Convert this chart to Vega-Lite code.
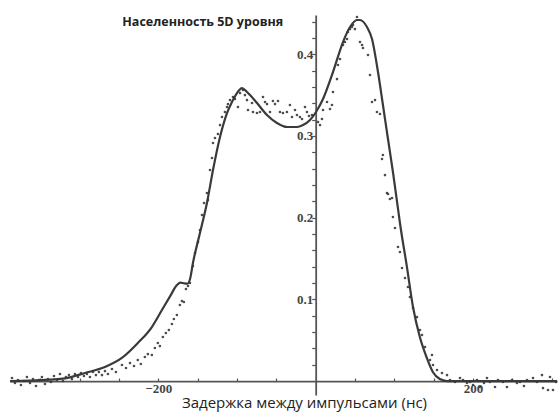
{
  "$schema": "https://vega.github.io/schema/vega-lite/v6.json",
  "width": 547,
  "height": 380,
  "autosize": {"type": "none"},
  "padding": {"left": 10, "top": 15, "right": 1, "bottom": 18},
  "background": "white",
  "config": {"view": {"stroke": null}},
  "datasets": {
    "fit": [
      {"delay": -388.5, "population": 0.0},
      {"delay": -363, "population": 0.0006},
      {"delay": -337.7, "population": 0.0018},
      {"delay": -318.6, "population": 0.0033},
      {"delay": -293.2, "population": 0.0098},
      {"delay": -267.9, "population": 0.0171},
      {"delay": -246.3, "population": 0.0282},
      {"delay": -226, "population": 0.0465},
      {"delay": -208.2, "population": 0.0661},
      {"delay": -195.4, "population": 0.0869},
      {"delay": -184, "population": 0.1055},
      {"delay": -178, "population": 0.1155},
      {"delay": -172, "population": 0.1205},
      {"delay": -167, "population": 0.1195},
      {"delay": -163, "population": 0.1192},
      {"delay": -159.5, "population": 0.1255},
      {"delay": -156, "population": 0.1444},
      {"delay": -147.1, "population": 0.1811},
      {"delay": -138.2, "population": 0.2179},
      {"delay": -130.5, "population": 0.2583},
      {"delay": -121.6, "population": 0.2987},
      {"delay": -112.7, "population": 0.328},
      {"delay": -106.4, "population": 0.3415},
      {"delay": -100, "population": 0.3525},
      {"delay": -93.7, "population": 0.3586},
      {"delay": -87.3, "population": 0.3537},
      {"delay": -74.6, "population": 0.3403},
      {"delay": -61.9, "population": 0.3256},
      {"delay": -49.2, "population": 0.3158},
      {"delay": -36.5, "population": 0.3109},
      {"delay": -23.8, "population": 0.3109},
      {"delay": -16.1, "population": 0.3133},
      {"delay": -7.2, "population": 0.3195},
      {"delay": 0.4, "population": 0.3293},
      {"delay": 9.3, "population": 0.3452},
      {"delay": 22, "population": 0.3782},
      {"delay": 34.7, "population": 0.4149},
      {"delay": 43.6, "population": 0.4333},
      {"delay": 52.5, "population": 0.4419},
      {"delay": 56.3, "population": 0.4419},
      {"delay": 65.2, "population": 0.4333},
      {"delay": 71.6, "population": 0.4186},
      {"delay": 79.2, "population": 0.3782},
      {"delay": 85.5, "population": 0.3378},
      {"delay": 91.9, "population": 0.2962},
      {"delay": 98.2, "population": 0.2558},
      {"delay": 104.6, "population": 0.211},
      {"delay": 107.1, "population": 0.1934},
      {"delay": 116, "population": 0.1395},
      {"delay": 123.7, "population": 0.0906},
      {"delay": 132.4, "population": 0.0539},
      {"delay": 141.3, "population": 0.0282},
      {"delay": 148.9, "population": 0.011},
      {"delay": 157.8, "population": 0.0024},
      {"delay": 166.7, "population": 0.0},
      {"delay": 234, "population": 0.0},
      {"delay": 306.7, "population": 0.0}
    ],
    "measured": [
      {"delay": -386.0, "population": 0.0037},
      {"delay": -382.2, "population": -0.0024},
      {"delay": -378.4, "population": 0.0012},
      {"delay": -374.6, "population": -0.0049},
      {"delay": -370.8, "population": 0.0},
      {"delay": -367.0, "population": 0.0049},
      {"delay": -363.1, "population": -0.0024},
      {"delay": -359.3, "population": 0.0024},
      {"delay": -355.5, "population": -0.0061},
      {"delay": -351.7, "population": 0.0012},
      {"delay": -347.9, "population": 0.0049},
      {"delay": -344.1, "population": -0.0037},
      {"delay": -340.3, "population": 0.0024},
      {"delay": -336.5, "population": -0.0012},
      {"delay": -332.6, "population": 0.0061},
      {"delay": -328.8, "population": 0.0012},
      {"delay": -325.0, "population": 0.0086},
      {"delay": -321.2, "population": 0.0},
      {"delay": -317.4, "population": 0.0049},
      {"delay": -313.6, "population": 0.0073},
      {"delay": -309.8, "population": 0.0024},
      {"delay": -306.0, "population": 0.0086},
      {"delay": -302.1, "population": 0.0049},
      {"delay": -298.3, "population": 0.0098},
      {"delay": -294.5, "population": 0.0061},
      {"delay": -290.7, "population": 0.0086},
      {"delay": -286.9, "population": 0.0049},
      {"delay": -283.1, "population": 0.011},
      {"delay": -279.3, "population": 0.0073},
      {"delay": -275.5, "population": 0.011},
      {"delay": -271.6, "population": 0.0073},
      {"delay": -267.8, "population": 0.0122},
      {"delay": -264.0, "population": 0.0086},
      {"delay": -258.9, "population": 0.0147},
      {"delay": -253.9, "population": 0.011},
      {"delay": -246.2, "population": 0.0196},
      {"delay": -241.1, "population": 0.0159},
      {"delay": -236.0, "population": 0.022},
      {"delay": -230.9, "population": 0.0184},
      {"delay": -226.1, "population": 0.0257},
      {"delay": -222.2, "population": 0.0208},
      {"delay": -217.1, "population": 0.0294},
      {"delay": -213.3, "population": 0.033},
      {"delay": -208.2, "population": 0.0318},
      {"delay": -204.4, "population": 0.0404},
      {"delay": -200.6, "population": 0.0465},
      {"delay": -198.0, "population": 0.0428},
      {"delay": -194.2, "population": 0.0539},
      {"delay": -190.4, "population": 0.0588},
      {"delay": -186.6, "population": 0.0624},
      {"delay": -182.7, "population": 0.0698},
      {"delay": -180.2, "population": 0.0759},
      {"delay": -176.4, "population": 0.0808},
      {"delay": -172.6, "population": 0.093},
      {"delay": -170.0, "population": 0.0979},
      {"delay": -167.5, "population": 0.0967},
      {"delay": -164.9, "population": 0.1126},
      {"delay": -162.3, "population": 0.1163},
      {"delay": -159.8, "population": 0.12},
      {"delay": -156.0, "population": 0.1408},
      {"delay": -153.4, "population": 0.1567},
      {"delay": -149.6, "population": 0.1701},
      {"delay": -147.1, "population": 0.1848},
      {"delay": -144.5, "population": 0.2032},
      {"delay": -141.9, "population": 0.2179},
      {"delay": -138.2, "population": 0.2301},
      {"delay": -136.9, "population": 0.2215},
      {"delay": -134.3, "population": 0.2583},
      {"delay": -131.8, "population": 0.273},
      {"delay": -130.5, "population": 0.2913},
      {"delay": -128.0, "population": 0.2974},
      {"delay": -124.2, "population": 0.3023},
      {"delay": -121.6, "population": 0.3133},
      {"delay": -119.1, "population": 0.3231},
      {"delay": -115.3, "population": 0.3293},
      {"delay": -112.7, "population": 0.3354},
      {"delay": -111.5, "population": 0.339},
      {"delay": -108.9, "population": 0.3439},
      {"delay": -105.1, "population": 0.3476},
      {"delay": -102.6, "population": 0.3452},
      {"delay": -98.8, "population": 0.3354},
      {"delay": -96.2, "population": 0.3525},
      {"delay": -92.4, "population": 0.3562},
      {"delay": -89.9, "population": 0.35},
      {"delay": -87.3, "population": 0.3439},
      {"delay": -86.0, "population": 0.3317},
      {"delay": -80.9, "population": 0.3403},
      {"delay": -79.7, "population": 0.3293},
      {"delay": -74.6, "population": 0.328},
      {"delay": -70.8, "population": 0.3293},
      {"delay": -67.0, "population": 0.3476},
      {"delay": -64.4, "population": 0.3415},
      {"delay": -61.9, "population": 0.339},
      {"delay": -58.1, "population": 0.3293},
      {"delay": -54.3, "population": 0.3427},
      {"delay": -51.7, "population": 0.339},
      {"delay": -47.9, "population": 0.3427},
      {"delay": -45.4, "population": 0.3293},
      {"delay": -41.6, "population": 0.328},
      {"delay": -36.5, "population": 0.3293},
      {"delay": -32.7, "population": 0.3378},
      {"delay": -30.1, "population": 0.3231},
      {"delay": -26.3, "population": 0.3317},
      {"delay": -23.8, "population": 0.3256},
      {"delay": -20.0, "population": 0.3231},
      {"delay": -17.4, "population": 0.3207},
      {"delay": -13.6, "population": 0.3354},
      {"delay": -11.1, "population": 0.3293},
      {"delay": -8.5, "population": 0.3244},
      {"delay": -4.7, "population": 0.3256},
      {"delay": 2.9, "population": 0.317},
      {"delay": 5.5, "population": 0.3133},
      {"delay": 8.0, "population": 0.3207},
      {"delay": 9.3, "population": 0.3317},
      {"delay": 14.4, "population": 0.3415},
      {"delay": 18.2, "population": 0.3329},
      {"delay": 20.7, "population": 0.3378},
      {"delay": 22.0, "population": 0.3537},
      {"delay": 27.1, "population": 0.3696},
      {"delay": 28.3, "population": 0.3868},
      {"delay": 30.9, "population": 0.3941},
      {"delay": 34.7, "population": 0.4113},
      {"delay": 37.2, "population": 0.4149},
      {"delay": 39.8, "population": 0.4186},
      {"delay": 41.0, "population": 0.4272},
      {"delay": 43.6, "population": 0.4308},
      {"delay": 46.1, "population": 0.4333},
      {"delay": 47.4, "population": 0.4357},
      {"delay": 49.9, "population": 0.4308},
      {"delay": 52.5, "population": 0.4455},
      {"delay": 56.3, "population": 0.4149},
      {"delay": 58.9, "population": 0.4113},
      {"delay": 60.1, "population": 0.4076},
      {"delay": 66.5, "population": 0.399},
      {"delay": 69.0, "population": 0.3745},
      {"delay": 71.6, "population": 0.3415},
      {"delay": 75.4, "population": 0.3439},
      {"delay": 77.9, "population": 0.3293},
      {"delay": 81.7, "population": 0.3268},
      {"delay": 84.3, "population": 0.2717},
      {"delay": 85.5, "population": 0.2766},
      {"delay": 88.1, "population": 0.2521},
      {"delay": 90.6, "population": 0.2301},
      {"delay": 91.9, "population": 0.2289},
      {"delay": 94.4, "population": 0.2228},
      {"delay": 97.0, "population": 0.224},
      {"delay": 98.2, "population": 0.2007},
      {"delay": 100.8, "population": 0.1873},
      {"delay": 104.6, "population": 0.164},
      {"delay": 107.1, "population": 0.1579},
      {"delay": 109.7, "population": 0.1383},
      {"delay": 113.5, "population": 0.1261},
      {"delay": 117.3, "population": 0.1151},
      {"delay": 119.8, "population": 0.1028},
      {"delay": 123.7, "population": 0.0894},
      {"delay": 128.8, "population": 0.0783},
      {"delay": 132.6, "population": 0.0624},
      {"delay": 135.1, "population": 0.0563},
      {"delay": 138.9, "population": 0.0416},
      {"delay": 145.3, "population": 0.0257},
      {"delay": 147.8, "population": 0.0318},
      {"delay": 149.1, "population": 0.0196},
      {"delay": 154.2, "population": 0.0135},
      {"delay": 160.5, "population": 0.0098},
      {"delay": 166.9, "population": 0.0073},
      {"delay": 170.7, "population": 0.0012},
      {"delay": 177.1, "population": -0.0012},
      {"delay": 183.4, "population": 0.0037},
      {"delay": 187.2, "population": 0.0012},
      {"delay": 192.3, "population": -0.0024},
      {"delay": 196.1, "population": -0.0012},
      {"delay": 200.0, "population": -0.0049},
      {"delay": 205.0, "population": 0.0012},
      {"delay": 208.8, "population": -0.0073},
      {"delay": 213.9, "population": -0.0024},
      {"delay": 217.7, "population": 0.0037},
      {"delay": 221.5, "population": -0.0012},
      {"delay": 227.9, "population": -0.0073},
      {"delay": 231.7, "population": 0.0012},
      {"delay": 238.0, "population": -0.0012},
      {"delay": 243.1, "population": -0.0073},
      {"delay": 249.5, "population": 0.0012},
      {"delay": 255.8, "population": -0.0024},
      {"delay": 259.6, "population": -0.0012},
      {"delay": 264.7, "population": -0.0061},
      {"delay": 268.6, "population": 0.0012},
      {"delay": 276.2, "population": 0.0037},
      {"delay": 281.3, "population": -0.0012},
      {"delay": 287.6, "population": 0.0073},
      {"delay": 288.9, "population": -0.0086},
      {"delay": 295.3, "population": -0.011},
      {"delay": 297.8, "population": 0.0049},
      {"delay": 301.6, "population": -0.011},
      {"delay": 305.4, "population": -0.0012}
    ]
  },
  "encoding": {
    "x": {
      "field": "delay",
      "type": "quantitative",
      "scale": {"domain": [-388.5, 306.7], "nice": false, "zero": false},
      "axis": {
        "orient": "bottom",
        "offset": {"expr": "scale('y', 0) - height"},
        "values": [-350, -300, -250, -200, -150, -100, -50, 50, 100, 150, 200, 250, 300],
        "labelExpr": "abs(datum.value) == 200 ? format(datum.value, 'd') : ''",
        "labelOverlap": false,
        "labelFlush": false,
        "grid": false,
        "domainColor": "#555555",
        "domainWidth": 1.8,
        "tickColor": "#555555",
        "tickWidth": 1.2,
        "tickSize": -3,
        "labelPadding": 4,
        "labelFont": "Liberation Serif",
        "labelFontSize": 13,
        "labelFontWeight": "bold",
        "labelColor": "#444444",
        "title": "Задержка между импульсами (нс)",
        "titleFont": "Open Sans",
        "titleFontSize": 15,
        "titleFontWeight": "normal",
        "titleColor": "#222222",
        "titleAnchor": "start",
        "titleAlign": "center",
        "titleBaseline": "middle",
        "titleX": 294,
        "titleY": 21
      }
    },
    "y": {
      "field": "population",
      "type": "quantitative",
      "scale": {"domain": [-0.0171, 0.448], "nice": false, "zero": false},
      "axis": {
        "orient": "left",
        "offset": {"expr": "-scale('x', 0)"},
        "values": [0.02, 0.04, 0.06, 0.08, 0.1, 0.12, 0.14, 0.16, 0.18, 0.2, 0.22, 0.24, 0.26, 0.28, 0.3, 0.32, 0.34, 0.36, 0.38, 0.4, 0.42, 0.44],
        "labelExpr": "abs(datum.value * 10 - round(datum.value * 10)) < 0.000001 ? format(datum.value, '.1f') : ''",
        "labelOverlap": false,
        "labelFlush": false,
        "grid": false,
        "domainColor": "#555555",
        "domainWidth": 1.8,
        "tickColor": "#555555",
        "tickWidth": 1.2,
        "tickSize": 4,
        "labelPadding": -1,
        "labelFont": "Liberation Serif",
        "labelFontSize": 13,
        "labelFontWeight": "bold",
        "labelColor": "#444444",
        "title": "Населенность 5D уровня",
        "titleFont": "Open Sans",
        "titleFontSize": 12.5,
        "titleFontWeight": "bold",
        "titleColor": "#222222",
        "titleAngle": 0,
        "titleAlign": "right",
        "titleBaseline": "middle",
        "titleX": -33,
        "titleY": 6
      }
    }
  },
  "layer": [
    {
      "data": {"name": "fit"},
      "mark": {"type": "line", "color": "#3a3a3a", "strokeWidth": 2.2, "interpolate": "monotone"}
    },
    {
      "data": {"name": "measured"},
      "mark": {"type": "circle", "size": 7, "color": "#3a3a3a", "opacity": 0.9}
    }
  ]
}
